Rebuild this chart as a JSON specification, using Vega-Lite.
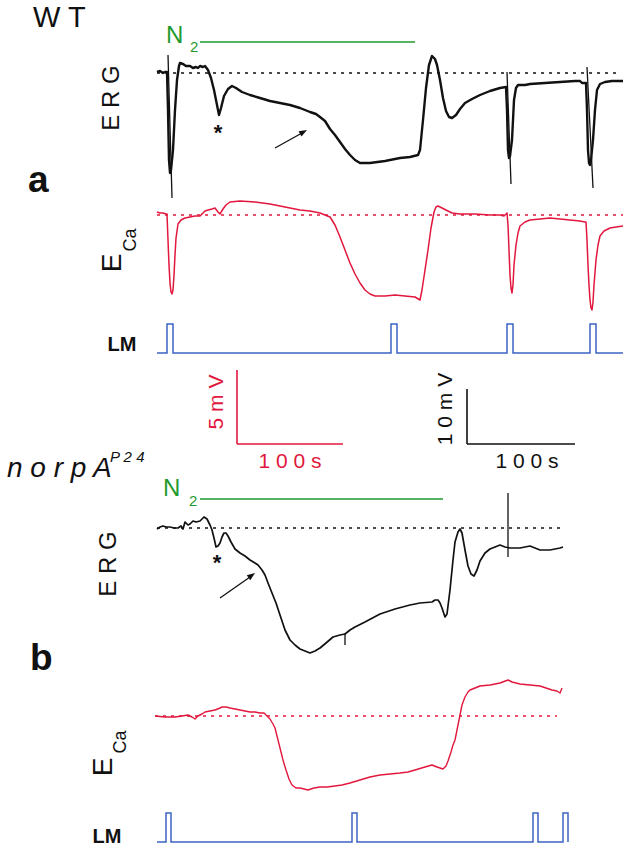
{
  "$schema": "https://vega.github.io/schema/vega-lite/v6.json",
  "width": 630,
  "height": 852,
  "autosize": {"type": "fit", "contains": "padding"},
  "padding": 0,
  "background": "white",
  "config": {"view": {"stroke": null}},
  "datasets": {
    "ergA": [
      {"x":157,"y":72},{"x":160,"y":71},{"x":163,"y":73},{"x":165,"y":72},{"x":167,"y":72},{"x":168,"y":110},{"x":169,"y":160},{"x":170,"y":173},{"x":171,"y":170},{"x":173,"y":150},{"x":175,"y":110},{"x":177,"y":80},{"x":179,"y":66},{"x":180,"y":63},{"x":183,"y":64},{"x":186,"y":66},{"x":190,"y":66},{"x":193,"y":68},{"x":196,"y":67},{"x":198,"y":68},{"x":200,"y":66},{"x":203,"y":67},{"x":205,"y":66},{"x":208,"y":70},{"x":211,"y":78},{"x":214,"y":90},{"x":217,"y":105},{"x":219,"y":115},{"x":221,"y":108},{"x":224,"y":96},{"x":228,"y":89},{"x":232,"y":86},{"x":236,"y":88},{"x":242,"y":92},{"x":250,"y":95},{"x":260,"y":98},{"x":270,"y":101},{"x":280,"y":103},{"x":290,"y":105},{"x":300,"y":108},{"x":310,"y":112},{"x":316,"y":114},{"x":320,"y":117},{"x":325,"y":121},{"x":330,"y":129},{"x":335,"y":135},{"x":340,"y":142},{"x":345,"y":149},{"x":350,"y":155},{"x":355,"y":160},{"x":360,"y":163},{"x":370,"y":163},{"x":385,"y":161},{"x":400,"y":158},{"x":410,"y":157},{"x":418,"y":155},{"x":420,"y":150},{"x":423,"y":120},{"x":426,"y":88},{"x":429,"y":65},{"x":432,"y":56},{"x":435,"y":59},{"x":437,"y":65},{"x":440,"y":80},{"x":443,"y":98},{"x":446,"y":111},{"x":449,"y":117},{"x":452,"y":118},{"x":456,"y":115},{"x":460,"y":109},{"x":465,"y":103},{"x":472,"y":99},{"x":480,"y":95},{"x":490,"y":91},{"x":500,"y":88},{"x":506,"y":87},{"x":507,"y":110},{"x":508,"y":150},{"x":509,"y":158},{"x":510,"y":156},{"x":512,"y":140},{"x":514,"y":100},{"x":516,"y":88},{"x":518,"y":85},{"x":525,"y":85},{"x":530,"y":84},{"x":545,"y":83},{"x":560,"y":82},{"x":575,"y":81},{"x":580,"y":81},{"x":582,"y":83},{"x":586,"y":83},{"x":587,"y":110},{"x":588,"y":150},{"x":589,"y":163},{"x":590,"y":165},{"x":591,"y":160},{"x":593,"y":140},{"x":595,"y":110},{"x":597,"y":90},{"x":600,"y":84},{"x":605,"y":82},{"x":612,"y":81},{"x":623,"y":81}
    ],
    "ergB": [
      {"x":157,"y":529},{"x":160,"y":527},{"x":163,"y":526},{"x":166,"y":527},{"x":170,"y":527},{"x":174,"y":528},{"x":178,"y":528},{"x":181,"y":526},{"x":183,"y":529},{"x":185,"y":522},{"x":188,"y":525},{"x":190,"y":524},{"x":193,"y":521},{"x":196,"y":522},{"x":200,"y":521},{"x":202,"y":519},{"x":204,"y":517},{"x":207,"y":519},{"x":210,"y":525},{"x":212,"y":530},{"x":214,"y":538},{"x":216,"y":547},{"x":218,"y":546},{"x":220,"y":543},{"x":222,"y":537},{"x":224,"y":533},{"x":226,"y":533},{"x":228,"y":536},{"x":231,"y":542},{"x":235,"y":549},{"x":240,"y":553},{"x":245,"y":556},{"x":250,"y":560},{"x":255,"y":563},{"x":258,"y":565},{"x":262,"y":570},{"x":265,"y":575},{"x":268,"y":583},{"x":272,"y":593},{"x":276,"y":603},{"x":280,"y":615},{"x":285,"y":630},{"x":290,"y":640},{"x":295,"y":645},{"x":300,"y":649},{"x":305,"y":651},{"x":310,"y":653},{"x":315,"y":651},{"x":320,"y":648},{"x":326,"y":643},{"x":333,"y":637},{"x":340,"y":635},{"x":345,"y":634},{"x":350,"y":630},{"x":355,"y":627},{"x":365,"y":622},{"x":380,"y":614},{"x":395,"y":609},{"x":410,"y":605},{"x":420,"y":603},{"x":432,"y":602},{"x":435,"y":600},{"x":438,"y":600},{"x":440,"y":603},{"x":442,"y":608},{"x":445,"y":617},{"x":447,"y":614},{"x":450,"y":590},{"x":453,"y":560},{"x":455,"y":542},{"x":458,"y":532},{"x":460,"y":529},{"x":462,"y":533},{"x":465,"y":550},{"x":468,"y":566},{"x":471,"y":574},{"x":474,"y":576},{"x":477,"y":570},{"x":480,"y":561},{"x":485,"y":553},{"x":490,"y":549},{"x":495,"y":547},{"x":500,"y":545},{"x":505,"y":547},{"x":510,"y":548},{"x":520,"y":548},{"x":530,"y":546},{"x":535,"y":548},{"x":540,"y":550},{"x":545,"y":550},{"x":550,"y":550},{"x":555,"y":549},{"x":560,"y":548},{"x":563,"y":547}
    ],
    "ecaA": [
      {"x":157,"y":212},{"x":160,"y":213},{"x":163,"y":213},{"x":166,"y":214},{"x":167,"y":214},{"x":168,"y":240},{"x":169,"y":265},{"x":170,"y":283},{"x":171,"y":292},{"x":172,"y":294},{"x":173,"y":290},{"x":174,"y":275},{"x":175,"y":255},{"x":176,"y":238},{"x":178,"y":224},{"x":181,"y":220},{"x":185,"y":218},{"x":190,"y":217},{"x":195,"y":216},{"x":200,"y":216},{"x":203,"y":213},{"x":205,"y":211},{"x":208,"y":210},{"x":212,"y":209},{"x":215,"y":208},{"x":218,"y":212},{"x":220,"y":214},{"x":223,"y":209},{"x":226,"y":205},{"x":230,"y":202},{"x":240,"y":201},{"x":255,"y":202},{"x":270,"y":204},{"x":280,"y":206},{"x":290,"y":208},{"x":300,"y":210},{"x":310,"y":211},{"x":320,"y":213},{"x":325,"y":215},{"x":330,"y":217},{"x":335,"y":225},{"x":340,"y":237},{"x":345,"y":250},{"x":350,"y":263},{"x":355,"y":274},{"x":360,"y":283},{"x":365,"y":290},{"x":370,"y":294},{"x":375,"y":296},{"x":385,"y":296},{"x":395,"y":295},{"x":405,"y":296},{"x":415,"y":297},{"x":420,"y":300},{"x":422,"y":290},{"x":425,"y":270},{"x":428,"y":250},{"x":431,"y":228},{"x":434,"y":212},{"x":436,"y":207},{"x":438,"y":206},{"x":442,"y":208},{"x":446,"y":210},{"x":452,"y":213},{"x":460,"y":214},{"x":475,"y":214},{"x":490,"y":215},{"x":500,"y":215},{"x":504,"y":216},{"x":507,"y":213},{"x":508,"y":225},{"x":509,"y":250},{"x":510,"y":275},{"x":511,"y":288},{"x":512,"y":293},{"x":513,"y":285},{"x":514,"y":265},{"x":516,"y":245},{"x":518,"y":233},{"x":520,"y":226},{"x":525,"y":222},{"x":530,"y":220},{"x":540,"y":219},{"x":550,"y":218},{"x":560,"y":219},{"x":570,"y":220},{"x":580,"y":221},{"x":585,"y":222},{"x":586,"y":222},{"x":587,"y":240},{"x":588,"y":265},{"x":589,"y":285},{"x":590,"y":300},{"x":591,"y":308},{"x":592,"y":310},{"x":593,"y":302},{"x":594,"y":285},{"x":596,"y":260},{"x":598,"y":245},{"x":600,"y":236},{"x":604,"y":231},{"x":610,"y":228},{"x":616,"y":227},{"x":623,"y":226}
    ],
    "ecaB": [
      {"x":155,"y":716},{"x":165,"y":717},{"x":175,"y":717},{"x":182,"y":716},{"x":188,"y":715},{"x":192,"y":717},{"x":195,"y":719},{"x":198,"y":716},{"x":202,"y":714},{"x":205,"y":712},{"x":210,"y":711},{"x":215,"y":710},{"x":220,"y":708},{"x":222,"y":707},{"x":226,"y":707},{"x":230,"y":708},{"x":235,"y":709},{"x":240,"y":710},{"x":245,"y":711},{"x":250,"y":712},{"x":255,"y":712},{"x":260,"y":713},{"x":264,"y":713},{"x":267,"y":716},{"x":270,"y":719},{"x":273,"y":724},{"x":275,"y":728},{"x":278,"y":740},{"x":281,"y":752},{"x":283,"y":760},{"x":286,"y":770},{"x":289,"y":779},{"x":292,"y":785},{"x":296,"y":788},{"x":300,"y":788},{"x":304,"y":789},{"x":308,"y":790},{"x":314,"y":788},{"x":320,"y":787},{"x":327,"y":787},{"x":335,"y":786},{"x":342,"y":785},{"x":350,"y":783},{"x":360,"y":780},{"x":370,"y":777},{"x":380,"y":775},{"x":390,"y":774},{"x":400,"y":773},{"x":408,"y":772},{"x":415,"y":770},{"x":425,"y":767},{"x":432,"y":765},{"x":437,"y":767},{"x":443,"y":769},{"x":446,"y":766},{"x":448,"y":761},{"x":451,"y":752},{"x":453,"y":745},{"x":455,"y":740},{"x":457,"y":730},{"x":460,"y":715},{"x":462,"y":705},{"x":465,"y":697},{"x":468,"y":692},{"x":470,"y":690},{"x":475,"y":688},{"x":480,"y":686},{"x":490,"y":685},{"x":500,"y":683},{"x":508,"y":680},{"x":512,"y":682},{"x":520,"y":684},{"x":530,"y":685},{"x":540,"y":686},{"x":546,"y":688},{"x":552,"y":690},{"x":557,"y":691},{"x":560,"y":693},{"x":562,"y":688}
    ],
    "lmA": [
      {"x":157,"y":353},{"x":167,"y":353},{"x":167,"y":324},{"x":173,"y":324},{"x":173,"y":353},{"x":391,"y":353},{"x":391,"y":324},{"x":397,"y":324},{"x":397,"y":353},{"x":507,"y":353},{"x":507,"y":324},{"x":513,"y":324},{"x":513,"y":353},{"x":590,"y":353},{"x":590,"y":324},{"x":596,"y":324},{"x":596,"y":353},{"x":623,"y":353}
    ],
    "lmB": [
      {"x":157,"y":842},{"x":166,"y":842},{"x":166,"y":813},{"x":171,"y":813},{"x":171,"y":842},{"x":352,"y":842},{"x":352,"y":813},{"x":357,"y":813},{"x":357,"y":842},{"x":533,"y":842},{"x":533,"y":813},{"x":538,"y":813},{"x":538,"y":842},{"x":563,"y":842},{"x":563,"y":813},{"x":568,"y":813},{"x":568,"y":842}
    ],
    "blackThin": [
      {"x":168,"y":55,"x2":172,"y2":198},
      {"x":507,"y":72,"x2":511,"y2":184},
      {"x":587,"y":67,"x2":593,"y2":188},
      {"x":508,"y":493,"x2":508,"y2":557},
      {"x":345,"y":633,"x2":345,"y2":645},
      {"x":275,"y":148,"x2":302,"y2":133},
      {"x":220,"y":598,"x2":250,"y2":577}
    ],
    "dotsBlack": [
      {"x":157,"y":73,"x2":618,"y2":73},
      {"x":157,"y":528,"x2":565,"y2":528}
    ],
    "dotsRed": [
      {"x":157,"y":215,"x2":623,"y2":215},
      {"x":155,"y":716,"x2":557,"y2":716}
    ],
    "n2": [
      {"x":200,"y":42,"x2":415,"y2":42},
      {"x":200,"y":499,"x2":443,"y2":499}
    ],
    "barRed": [
      {"x":237,"y":370,"x2":237,"y2":444},
      {"x":237,"y":444,"x2":343,"y2":444}
    ],
    "barBlack": [
      {"x":467,"y":389,"x2":467,"y2":444},
      {"x":467,"y":444,"x2":575,"y2":444}
    ]
  },
  "encoding": {
    "x": {"field": "x", "type": "quantitative", "scale": {"domain": [0, 630], "nice": false, "zero": false}, "axis": null},
    "y": {"field": "y", "type": "quantitative", "scale": {"domain": [852, 0], "nice": false, "zero": false}, "axis": null}
  },
  "layer": [
    {"data": {"name": "dotsBlack"}, "mark": {"type": "rule", "stroke": "#111", "strokeWidth": 1.6, "strokeDash": [3, 5]}, "encoding": {"x2": {"field": "x2"}, "y2": {"field": "y2"}}},
    {"data": {"name": "dotsRed"}, "mark": {"type": "rule", "stroke": "#e2173d", "strokeWidth": 1.5, "strokeDash": [3, 5]}, "encoding": {"x2": {"field": "x2"}, "y2": {"field": "y2"}}},
    {"data": {"name": "n2"}, "mark": {"type": "rule", "stroke": "#1f9a2e", "strokeWidth": 1.6}, "encoding": {"x2": {"field": "x2"}, "y2": {"field": "y2"}}},
    {"data": {"name": "barRed"}, "mark": {"type": "rule", "stroke": "#e2173d", "strokeWidth": 1.6}, "encoding": {"x2": {"field": "x2"}, "y2": {"field": "y2"}}},
    {"data": {"name": "barBlack"}, "mark": {"type": "rule", "stroke": "#111", "strokeWidth": 1.6}, "encoding": {"x2": {"field": "x2"}, "y2": {"field": "y2"}}},
    {"data": {"name": "blackThin"}, "mark": {"type": "rule", "stroke": "#111", "strokeWidth": 1.3}, "encoding": {"x2": {"field": "x2"}, "y2": {"field": "y2"}}},
    {"data": {"name": "ecaA"}, "mark": {"type": "line", "stroke": "#e2173d", "strokeWidth": 1.5, "strokeJoin": "round"}, "encoding": {"order": {"value": null}}},
    {"data": {"name": "ecaB"}, "mark": {"type": "line", "stroke": "#e2173d", "strokeWidth": 1.4, "strokeJoin": "round"}, "encoding": {"order": {"value": null}}},
    {"data": {"name": "lmA"}, "mark": {"type": "line", "stroke": "#3d63c2", "strokeWidth": 1.5}, "encoding": {"order": {"value": null}}},
    {"data": {"name": "lmB"}, "mark": {"type": "line", "stroke": "#3d63c2", "strokeWidth": 1.5}, "encoding": {"order": {"value": null}}},
    {"data": {"name": "ergA"}, "mark": {"type": "line", "stroke": "#111", "strokeWidth": 2.4, "strokeJoin": "round"}, "encoding": {"order": {"value": null}}},
    {"data": {"name": "ergB"}, "mark": {"type": "line", "stroke": "#111", "strokeWidth": 1.7, "strokeJoin": "round"}, "encoding": {"order": {"value": null}}},
    {"data": {"values": [{"x": 307, "y": 130}]}, "mark": {"type": "point", "shape": "M0,0L-2,-0.75L-2,0.75Z", "filled": true, "color": "#111", "opacity": 1, "size": 64, "angle": 331}},
    {"data": {"values": [{"x": 255, "y": 573}]}, "mark": {"type": "point", "shape": "M0,0L-2,-0.75L-2,0.75Z", "filled": true, "color": "#111", "opacity": 1, "size": 64, "angle": 324}},
    {"data": {"values": [{"x": 33, "y": 27, "t": "W T"}]}, "mark": {"type": "text", "font": "Liberation Sans", "fontSize": 29, "align": "left", "baseline": "alphabetic", "color": "#111"}, "encoding": {"text": {"field": "t"}}},
    {"data": {"values": [{"x": 28, "y": 192, "t": "a"}, {"x": 30, "y": 670, "t": "b"}]}, "mark": {"type": "text", "font": "Liberation Sans", "fontSize": 37, "fontWeight": "bold", "align": "left", "baseline": "alphabetic", "color": "#111"}, "encoding": {"text": {"field": "t"}}},
    {"data": {"values": [{"x": 166, "y": 43, "t": "N"}, {"x": 163, "y": 496, "t": "N"}]}, "mark": {"type": "text", "font": "Liberation Sans", "fontSize": 24, "align": "left", "baseline": "alphabetic", "color": "#1f9a2e"}, "encoding": {"text": {"field": "t"}}},
    {"data": {"values": [{"x": 190, "y": 52, "t": "2"}, {"x": 189, "y": 506, "t": "2"}]}, "mark": {"type": "text", "font": "Liberation Sans", "fontSize": 15, "align": "left", "baseline": "alphabetic", "color": "#1f9a2e"}, "encoding": {"text": {"field": "t"}}},
    {"data": {"values": [{"x": 112, "y": 98, "t": "E R G"}, {"x": 109, "y": 564, "t": "E R G"}]}, "mark": {"type": "text", "font": "Liberation Sans", "fontSize": 24, "angle": 270, "align": "center", "baseline": "middle", "color": "#111"}, "encoding": {"text": {"field": "t"}}},
    {"data": {"values": [{"x": 113, "y": 263, "t": "E"}, {"x": 104, "y": 767, "t": "E"}]}, "mark": {"type": "text", "font": "Liberation Sans", "fontSize": 28, "angle": 270, "align": "center", "baseline": "middle", "color": "#111"}, "encoding": {"text": {"field": "t"}}},
    {"data": {"values": [{"x": 131, "y": 240, "t": "Ca"}, {"x": 121, "y": 742, "t": "Ca"}]}, "mark": {"type": "text", "font": "Liberation Sans", "fontSize": 18, "angle": 270, "align": "center", "baseline": "middle", "color": "#111"}, "encoding": {"text": {"field": "t"}}},
    {"data": {"values": [{"x": 122, "y": 345, "t": "LM"}, {"x": 107, "y": 837, "t": "LM"}]}, "mark": {"type": "text", "font": "Liberation Sans", "fontSize": 20, "fontWeight": "bold", "align": "center", "baseline": "middle", "color": "#111"}, "encoding": {"text": {"field": "t"}}},
    {"data": {"values": [{"x": 217, "y": 402, "t": "5 m V"}]}, "mark": {"type": "text", "font": "Liberation Sans", "fontSize": 21, "angle": 270, "align": "center", "baseline": "middle", "color": "#e2173d"}, "encoding": {"text": {"field": "t"}}},
    {"data": {"values": [{"x": 446, "y": 409, "t": "1 0 m V"}]}, "mark": {"type": "text", "font": "Liberation Sans", "fontSize": 21, "angle": 270, "align": "center", "baseline": "middle", "color": "#111"}, "encoding": {"text": {"field": "t"}}},
    {"data": {"values": [{"x": 290, "y": 462, "t": "1 0 0 s"}]}, "mark": {"type": "text", "font": "Liberation Sans", "fontSize": 21, "align": "center", "baseline": "middle", "color": "#e2173d"}, "encoding": {"text": {"field": "t"}}},
    {"data": {"values": [{"x": 527, "y": 462, "t": "1 0 0 s"}]}, "mark": {"type": "text", "font": "Liberation Sans", "fontSize": 21, "align": "center", "baseline": "middle", "color": "#111"}, "encoding": {"text": {"field": "t"}}},
    {"data": {"values": [{"x": 7, "y": 477, "t": "n o r p A"}]}, "mark": {"type": "text", "font": "Liberation Sans", "fontSize": 28, "fontStyle": "italic", "align": "left", "baseline": "alphabetic", "color": "#111"}, "encoding": {"text": {"field": "t"}}},
    {"data": {"values": [{"x": 110, "y": 462, "t": "P 2 4"}]}, "mark": {"type": "text", "font": "Liberation Sans", "fontSize": 15, "fontStyle": "italic", "align": "left", "baseline": "alphabetic", "color": "#111"}, "encoding": {"text": {"field": "t"}}},
    {"data": {"values": [{"x": 218, "y": 140, "t": "*"}, {"x": 217, "y": 570, "t": "*"}]}, "mark": {"type": "text", "font": "Liberation Sans", "fontSize": 22, "fontWeight": "bold", "align": "center", "baseline": "alphabetic", "color": "#111"}, "encoding": {"text": {"field": "t"}}}
  ]
}
